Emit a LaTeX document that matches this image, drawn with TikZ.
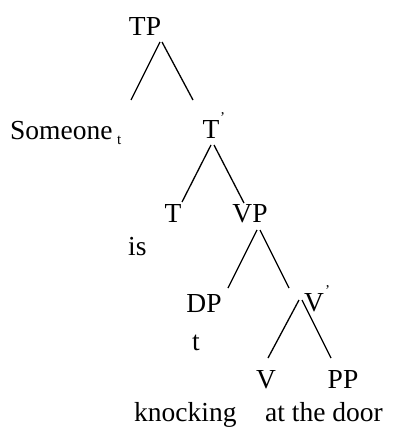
\documentclass[tikz,border=0pt]{standalone}
\usepackage{fontspec}
\setmainfont{Liberation Serif}
\begin{document}
\begin{tikzpicture}[x=1pt,y=-1pt,
  lbl/.style={inner sep=0pt,anchor=base,font=\fontsize{27.5}{32}\selectfont},
  lbll/.style={lbl,anchor=base west},
  sml/.style={inner sep=0pt,anchor=base west,font=\fontsize{15}{17}\selectfont},
  branch/.style={line width=1.3pt}]
\useasboundingbox (0,0) rectangle (394,433);
% labels
\node[lbl] (TP) at (145,36) {TP};
\node[lbll] (someone) at (10,139) {Someone};
\node[sml] (sub) at (117,144) {t};
\node[lbl] (Tbar) at (211,138) {T};
\node[sml] (Tprime) at (220,122) {’};
\node[lbl] (T) at (173,222) {T};
\node[lbl] (VP) at (250,222) {VP};
\node[lbll] (is) at (128,255) {is};
\node[lbl] (DP) at (204,312) {DP};
\node[lbl] (Vbar) at (314,311) {V};
\node[sml] (Vprime) at (325,295) {’};
\node[lbl] (trace) at (196,350) {t};
\node[lbl] (V) at (266,388) {V};
\node[lbl] (PP) at (343,388) {PP};
\node[lbll] (knock) at (134,421) {knocking};
\node[lbll] (door) at (265,421) {at the door};
% branch end points
\coordinate (tpL) at (160,42);  \coordinate (spL) at (131,100);
\coordinate (tpR) at (162,42);  \coordinate (tbR) at (193,100);
\coordinate (tbL1) at (211,145); \coordinate (tL) at (182,202);
\coordinate (tbR1) at (214,145); \coordinate (vpR) at (244,203);
\coordinate (vpL1) at (257,230); \coordinate (dpL) at (228,288);
\coordinate (vpR1) at (260,230); \coordinate (vbR) at (289,288);
\coordinate (vbL1) at (299,300); \coordinate (vL) at (268,358);
\coordinate (vbR1) at (302,300); \coordinate (ppR) at (331,358);
% branches
\draw[branch] (tpL) -- (spL);
\draw[branch] (tpR) -- (tbR);
\draw[branch] (tbL1) -- (tL);
\draw[branch] (tbR1) -- (vpR);
\draw[branch] (vpL1) -- (dpL);
\draw[branch] (vpR1) -- (vbR);
\draw[branch] (vbL1) -- (vL);
\draw[branch] (vbR1) -- (ppR);
\end{tikzpicture}
\end{document}
